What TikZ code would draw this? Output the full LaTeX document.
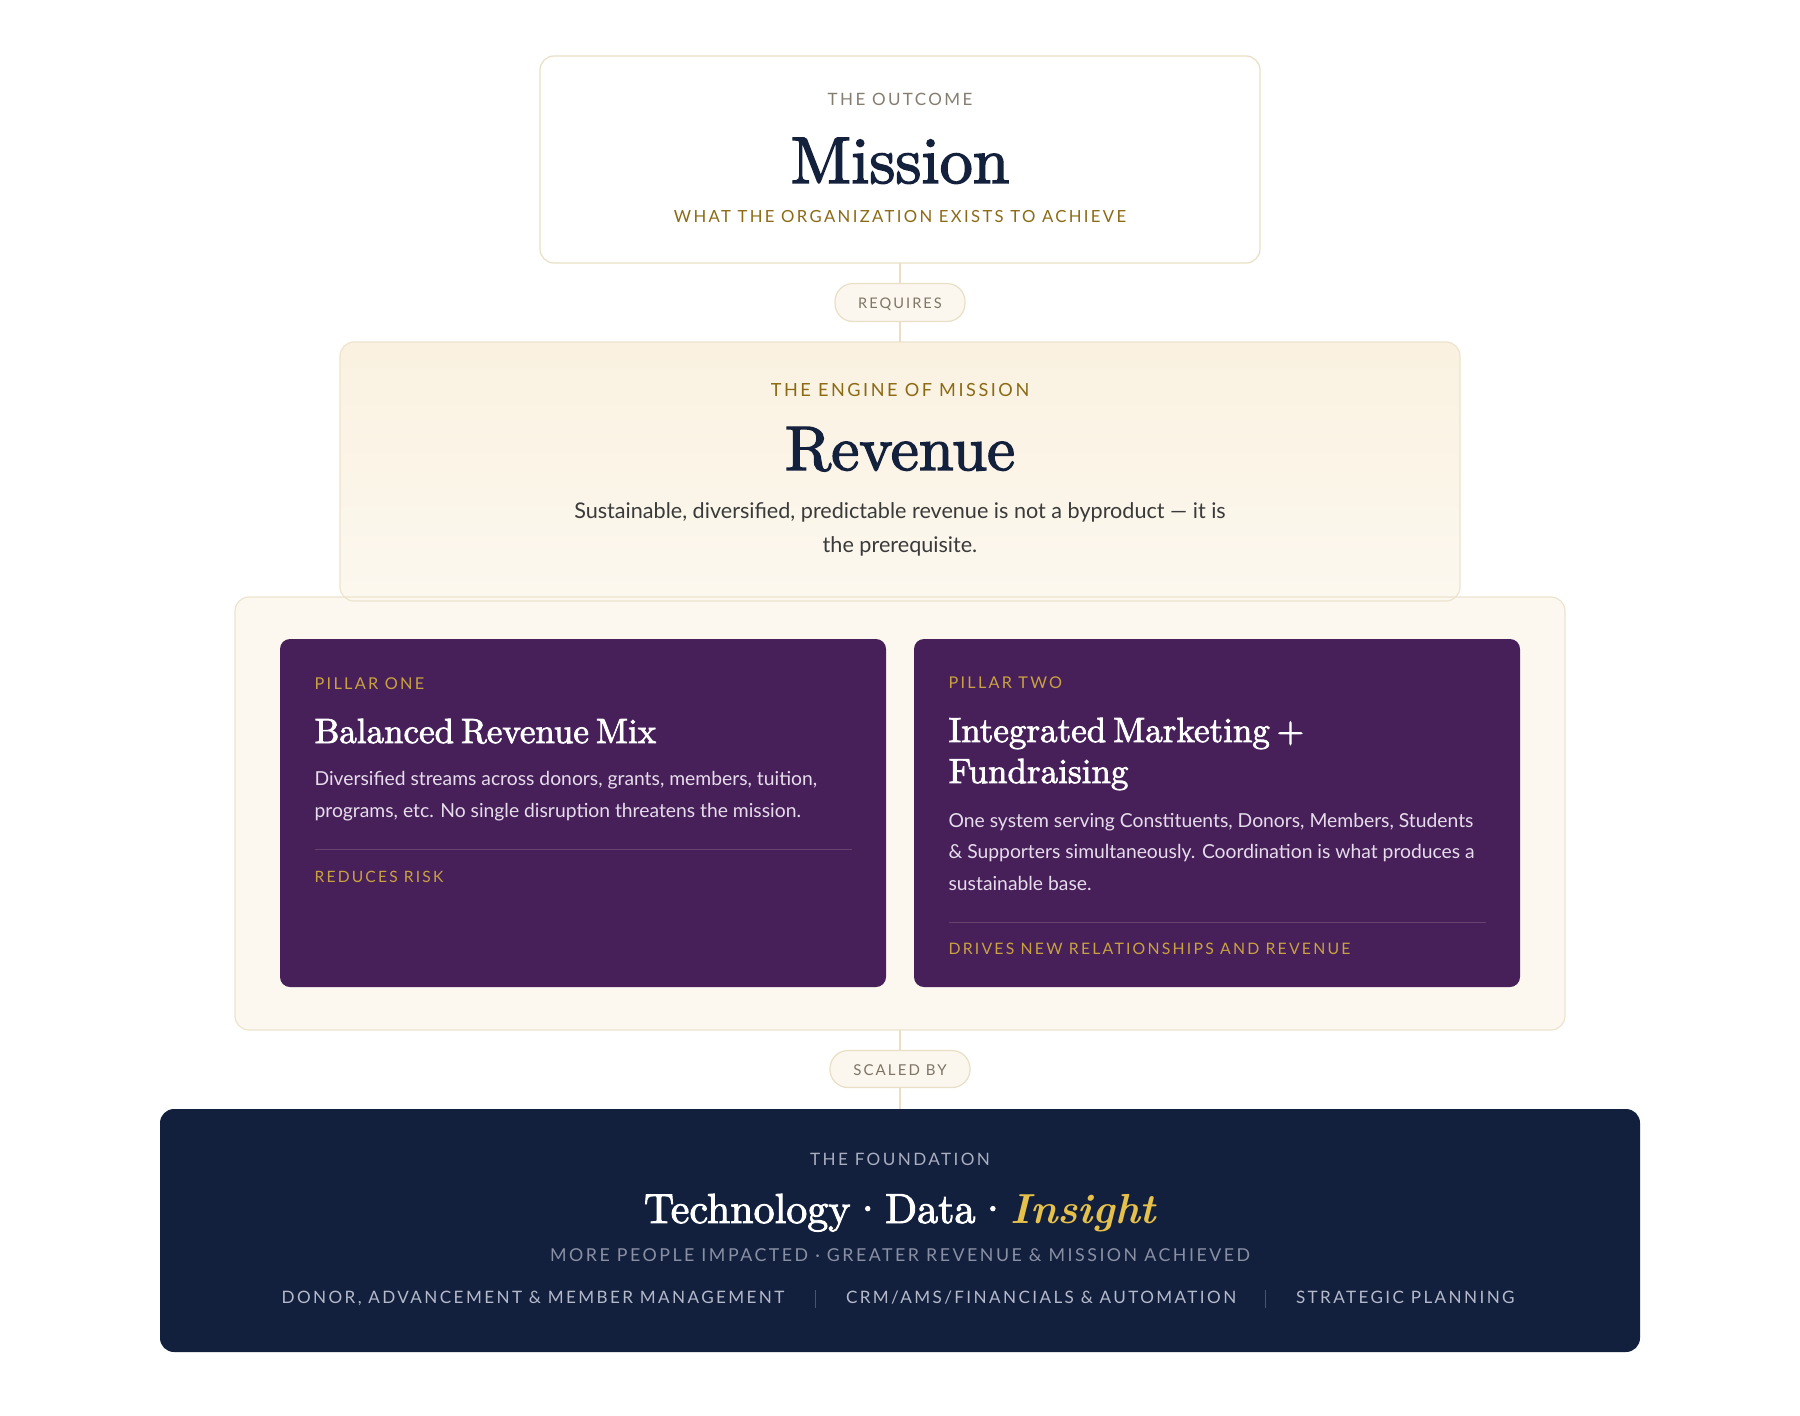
\documentclass[tikz,border=0pt]{standalone}
\usepackage{fontspec}
\setmainfont{Lato}
\newfontfamily\capsfont{Lato}[LetterSpace=14]
\newfontfamily\headfont{lmroman10-regular.otf}[FakeBold=2.2, WordSpace=0.6]
\newfontfamily\headitfont{lmroman10-bolditalic.otf}[WordSpace=0.6]
\definecolor{beigeline}{HTML}{E9DFC6}
\definecolor{outgray}{HTML}{857D70}
\definecolor{navy}{HTML}{14213D}
\definecolor{goldtext}{HTML}{8B6A14}
\definecolor{pillfill}{HTML}{FBF7EE}
\definecolor{pilltext}{HTML}{7D7566}
\definecolor{revtop}{HTML}{FAF1E0}
\definecolor{revbot}{HTML}{FCF8EF}
\definecolor{contfill}{HTML}{FCF8F0}
\definecolor{contline}{HTML}{EDE4CE}
\definecolor{bodygray}{HTML}{3A3A3A}
\definecolor{purplebox}{HTML}{47205A}
\definecolor{pillgold}{HTML}{C9A23F}
\definecolor{pillbody}{HTML}{E6DCEB}
\definecolor{sepline}{HTML}{66426F}
\definecolor{foundfill}{HTML}{121F3D}
\definecolor{foundlabel}{HTML}{A9AFBF}
\definecolor{foundsub}{HTML}{8990A3}
\definecolor{foundrow}{HTML}{B4BACA}
\definecolor{founddiv}{HTML}{4A5470}
\definecolor{insightgold}{HTML}{E5C04B}
\tikzset{
  txt/.style={inner sep=0pt, outer sep=0pt},
  capsA/.style={txt, font=\capsfont\fontsize{16}{19}\selectfont},
  bodyA/.style={txt, font=\fontsize{19.3}{23}\selectfont, text=pillbody, anchor=base west},
  headA/.style={txt, font=\headfont\fontsize{35}{40}\selectfont, text=white, anchor=base west},
  rowA/.style={capsA, font=\capsfont\fontsize{17.1}{20}\selectfont, text=foundrow, anchor=base west},
  boxbase/.style={inner sep=0pt, outer sep=0pt, rounded corners=14pt},
  pillbox/.style={boxbase, rounded corners=18pt, fill=pillfill, draw=beigeline, line width=1.2pt},
  pillarbox/.style={boxbase, rounded corners=10pt, fill=purplebox, minimum width=606pt, minimum height=348pt},
  conn/.style={draw=beigeline, line width=1.2pt},
  sep/.style={draw=sepline, line width=1pt}
}
\begin{document}
\begin{tikzpicture}[x=1pt,y=-1pt]
\useasboundingbox (0,0) rectangle (1800,1416);
\fill[white] (0,0) rectangle (1800,1416);

% boxes
\node[boxbase, fill=white, draw=beigeline, line width=1.2pt, minimum width=720pt, minimum height=207pt] (mission) at (900,159.5) {};
\node[boxbase, top color=revtop, bottom color=revbot, minimum width=1120pt, minimum height=259pt] (revenue) at (900,471.5) {};
\node[boxbase, fill=contfill, draw=contline, line width=1.2pt, minimum width=1330pt, minimum height=433pt] (pillars) at (900,813.5) {};
\draw[contline, line width=1.2pt, rounded corners=14pt] (revenue.south west) rectangle (revenue.north east);
\node[pillarbox] (p1) at (583,813) {};
\node[pillarbox] (p2) at (1217,813) {};
\node[boxbase, fill=foundfill, minimum width=1480pt, minimum height=243pt] (found) at (900,1230.5) {};

% connectors
\draw[conn] (mission.south) -- (revenue.north);
\draw[conn] (pillars.south) -- (found.north);
\node[pillbox, minimum width=130pt, minimum height=38pt] (requires) at (900,302.5) {};
\node[capsA, font=\capsfont\fontsize{14.6}{17}\selectfont, text=pilltext, anchor=base] (requirest) at (900,308) {REQUIRES};
\node[pillbox, minimum width=140pt, minimum height=37pt] (scaled) at (900,1069) {};
\node[capsA, font=\capsfont\fontsize{15}{17}\selectfont, text=pilltext, anchor=base] (scaledt) at (900,1075) {SCALED BY};

% mission
\node[capsA, font=\capsfont\fontsize{17}{20}\selectfont, text=outgray, anchor=base] (outcome) at (900,105) {THE OUTCOME};
\node[txt, font=\headfont\fontsize{66}{70}\selectfont, text=navy, anchor=base] (missiont) at (900,183) {Mission};
\node[capsA, font=\capsfont\fontsize{16.7}{20}\selectfont, text=goldtext, anchor=base] (missionsub) at (900,222) {WHAT THE ORGANIZATION EXISTS TO ACHIEVE};

% revenue
\node[capsA, font=\capsfont\fontsize{18.1}{21}\selectfont, text=goldtext, anchor=base] (engine) at (900,396) {THE ENGINE OF MISSION};
\node[txt, font=\headfont\fontsize{63}{66}\selectfont, text=navy, anchor=base] (revt) at (900,470) {Revenue};
\node[txt, font=\fontsize{21.6}{26}\selectfont, text=bodygray, anchor=base] (revb1) at (900,518) {Sustainable, diversified, predictable revenue is not a byproduct — it is};
\node[txt, font=\fontsize{21.6}{26}\selectfont, text=bodygray, anchor=base] (revb2) at (900,552) {the prerequisite.};

% pillar one
\node[capsA, font=\capsfont\fontsize{16.3}{19}\selectfont, text=pillgold, anchor=base west] (p1label) at (314.6,689) {PILLAR ONE};
\node[headA] (p1title) at (314.6,743) {Balanced Revenue Mix};
\node[bodyA] (p1b1) at (314.6,785) {Diversified streams across donors, grants, members, tuition,};
\node[bodyA] (p1b2) at (314.6,817) {programs, etc. No single disruption threatens the mission.};
\draw[sep] (314.6,849) -- (851.7,849);
\node[capsA, font=\capsfont\fontsize{15.6}{19}\selectfont, text=pillgold, anchor=base west] (p1foot) at (314.6,882) {REDUCES RISK};

% pillar two
\node[capsA, font=\capsfont\fontsize{16.2}{19}\selectfont, text=pillgold, anchor=base west] (p2label) at (948.6,688) {PILLAR TWO};
\node[headA] (p2t1) at (948.6,742) {Integrated Marketing +};
\node[headA] (p2t2) at (948.6,783) {Fundraising};
\node[bodyA] (p2b1) at (948.6,827) {One system serving Constituents, Donors, Members, Students};
\node[bodyA] (p2b2) at (948.6,858) {\& Supporters simultaneously. Coordination is what produces a};
\node[bodyA] (p2b3) at (948.6,890) {sustainable base.};
\draw[sep] (948.6,922) -- (1485.5,922);
\node[capsA, font=\capsfont\fontsize{15.8}{19}\selectfont, text=pillgold, anchor=base west] (p2foot) at (948.6,954) {DRIVES NEW RELATIONSHIPS AND REVENUE};

% foundation
\node[capsA, font=\capsfont\fontsize{17.1}{20}\selectfont, text=foundlabel, anchor=base] (foundl) at (900,1165) {THE FOUNDATION};
\node[txt, font=\headfont\fontsize{42}{48}\selectfont, text=white, anchor=base] (foundt) at (900,1223) {Technology\kern1pt·\kern1pt Data\kern1pt·\kern1pt{\headitfont\color{insightgold}Insight}};
\node[capsA, font=\capsfont\fontsize{17.8}{20}\selectfont, text=foundsub, anchor=base] (foundsubt) at (900,1261) {MORE PEOPLE IMPACTED · GREATER REVENUE \& MISSION ACHIEVED};
\node[rowA] (row1) at (281.6,1303) {DONOR, ADVANCEMENT \& MEMBER MANAGEMENT};
\node[rowA] (row2) at (846,1303) {CRM/AMS/FINANCIALS \& AUTOMATION};
\node[rowA] (row3) at (1296,1303) {STRATEGIC PLANNING};
\draw[founddiv, line width=1.2pt] (815.5,1290) -- (815.5,1308);
\draw[founddiv, line width=1.2pt] (1265.6,1290) -- (1265.6,1308);
\end{tikzpicture}
\end{document}
